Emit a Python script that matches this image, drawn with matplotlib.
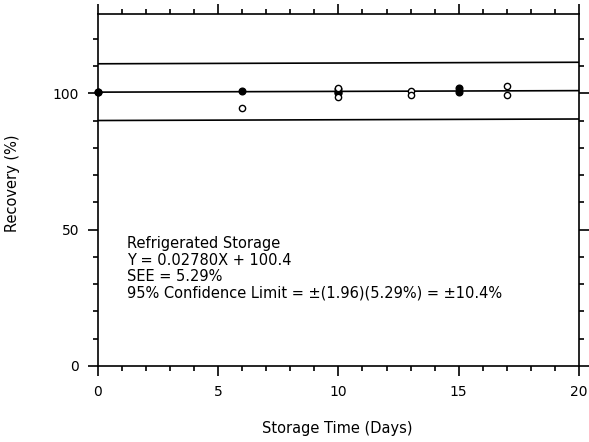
import matplotlib
matplotlib.use('Agg')
import matplotlib.pyplot as plt
import numpy as np

plt.rcParams['font.family'] = ['DejaVu Sans']

# refrigerated storage, recovery (%) vs days
days_filled = [0, 0, 6, 10, 10, 10, 15, 15]
rec_filled = [100.4, 100.6, 101.0, 101.5, 100.5, 100.0, 101.8, 100.6]
days_open = [6, 10, 10, 13, 13, 17, 17]
rec_open = [94.5, 102.0, 98.8, 101.0, 99.2, 102.8, 99.4]

slope = 0.02780
intercept = 100.4
conf = 10.4

fig = plt.figure(figsize=(5.89, 4.42), dpi=100)
ax = fig.add_axes([0.166, 0.172, 0.817, 0.796])

xs = np.array([0, 20])
fit = intercept + slope * xs
ax.plot(xs, fit, color='black', lw=1.2)
ax.plot(xs, fit + conf, color='black', lw=1.2)
ax.plot(xs, fit - conf, color='black', lw=1.2)

ax.plot(days_filled, rec_filled, 'o', color='black', ms=4.8, clip_on=False, zorder=3)
ax.plot(days_open, rec_open, 'o', mfc='white', mec='black', mew=1.0, ms=4.5, zorder=4)

ax.set_xlim(0, 20)
ax.set_ylim(0, 129)
ax.set_xticks([0, 5, 10, 15, 20])
ax.set_xticks(range(0, 21), minor=True)
ax.set_yticks([0, 50, 100])
ax.set_yticks(range(0, 130, 10), minor=True)
ax.tick_params(which='both', direction='out', top=True, right=True,
               labeltop=False, labelright=False, width=1.2, labelsize=10, pad=6)
ax.tick_params(which='major', length=7.5)
ax.tick_params(which='minor', length=3.5)
for s in ax.spines.values():
    s.set_linewidth(1.2)

ax.set_xlabel('Storage Time (Days)', fontsize=10.5)
ax.set_ylabel('Recovery (%)', fontsize=10.5)
ax.xaxis.set_label_coords(0.497, -0.157)
ax.yaxis.set_label_coords(-0.162, 0.52)

txt = ('Refrigerated Storage\n'
       'Y = 0.02780X + 100.4\n'
       'SEE = 5.29%\n'
       '95% Confidence Limit = \u00b1(1.96)(5.29%) = \u00b110.4%')
ax.text(1.2, 47.6, txt, fontsize=10.5, va='top', ha='left', linespacing=1.12)

fig.savefig('out.png', dpi=100)
